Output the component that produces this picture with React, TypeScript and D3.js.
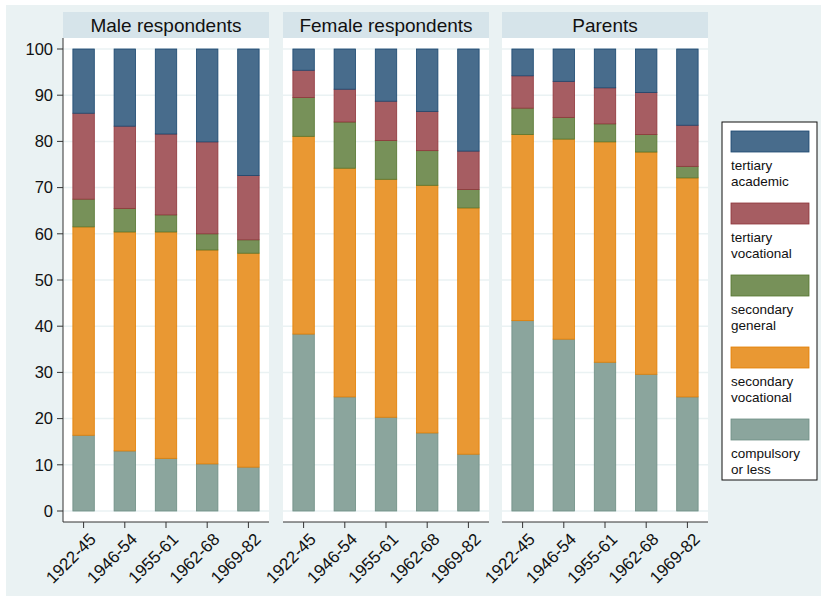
import * as d3 from 'd3'
import React from 'react'

const cohorts = ['1922-45', '1946-54', '1955-61', '1962-68', '1969-82']
const panelTitles = ['Male respondents', 'Female respondents', 'Parents']
const levels = ['compulsory', 'secVoc', 'secGen', 'terVoc', 'terAcad']
const legendLabels = [
  ['tertiary', 'academic'],
  ['tertiary', 'vocational'],
  ['secondary', 'general'],
  ['secondary', 'vocational'],
  ['compulsory', 'or less'],
]
const legendKeys = ['terAcad', 'terVoc', 'secGen', 'secVoc', 'compulsory']

// shares (%) per cohort, bottom to top
const maleCompulsory = [16.4, 13.0, 11.4, 10.2, 9.5]
const maleSecVoc = [45.1, 47.4, 49.0, 46.3, 46.3]
const maleSecGen = [6.0, 5.1, 3.7, 3.5, 2.9]
const maleTerVoc = [18.6, 17.8, 17.5, 19.9, 13.9]
const maleTerAcad = [13.9, 16.7, 18.4, 20.1, 27.4]

const femaleCompulsory = [38.3, 24.7, 20.3, 16.9, 12.3]
const femaleSecVoc = [42.8, 49.5, 51.5, 53.6, 53.3]
const femaleSecGen = [8.4, 10.0, 8.4, 7.5, 4.0]
const femaleTerVoc = [5.9, 7.1, 8.5, 8.5, 8.3]
const femaleTerAcad = [4.6, 8.7, 11.3, 13.5, 22.1]

const parentCompulsory = [41.2, 37.2, 32.2, 29.6, 24.7]
const parentSecVoc = [40.3, 43.3, 47.7, 48.1, 47.4]
const parentSecGen = [5.7, 4.7, 3.9, 3.8, 2.5]
const parentTerVoc = [7.0, 7.8, 7.8, 9.1, 8.9]
const parentTerAcad = [5.8, 7.0, 8.4, 9.4, 16.5]

const yTicks = [0, 10, 20, 30, 40, 50, 60, 70, 80, 90, 100]

const fills: Record<string, string> = {
  terAcad: '#486c8c',
  terVoc: '#a65d62',
  secGen: '#779159',
  secVoc: '#e99833',
  compulsory: '#8ba59d',
}
const strokes: Record<string, string> = {
  terAcad: '#1a476f',
  terVoc: '#90353b',
  secGen: '#55752f',
  secVoc: '#e37e00',
  compulsory: '#6e8e84',
}

const buildRows = (cols: number[][]) =>
  cohorts.map((c, i) => {
    const row: any = { cohort: c }
    levels.forEach((l, j) => (row[l] = cols[j][i]))
    return row
  })

const panels = [
  buildRows([maleCompulsory, maleSecVoc, maleSecGen, maleTerVoc, maleTerAcad]),
  buildRows([femaleCompulsory, femaleSecVoc, femaleSecGen, femaleTerVoc, femaleTerAcad]),
  buildRows([parentCompulsory, parentSecVoc, parentSecGen, parentTerVoc, parentTerAcad]),
]

const font = '"Liberation Sans", Arial, Helvetica, sans-serif'

const App = () => {
  const width = 821
  const height = 599
  const panelX = [63, 283, 502]
  const panelW = 206
  const titleTop = 12
  const plotTop = 38
  const plotBottom = 522

  const y = d3.scaleLinear().domain([0, 100]).range([511, 49])
  const x = d3.scaleBand().domain(cohorts).range([0, panelW]).paddingInner(0.48).paddingOuter(0.24)
  const stack = d3.stack<any>().keys(levels)

  return (
    <svg width={width} height={height} style={{ position: 'absolute', left: 0, top: 0 }} fontFamily={font}>
      <rect x={0} y={0} width={width} height={height} fill='#ffffff' />
      <rect x={6} y={5} width={815} height={591} fill='#eaf2f3' />

      {panels.map((rows, p) => {
        const series = stack(rows)
        return (
          <g key={p} transform={`translate(${panelX[p]},0)`}>
            <rect x={0} y={titleTop} width={panelW} height={plotTop - titleTop} fill='#d6e4ea' />
            <text x={panelW / 2} y={32} textAnchor='middle' fontSize={19} fill='#111'>
              {panelTitles[p]}
            </text>
            <rect x={0} y={plotTop} width={panelW} height={plotBottom - plotTop} fill='#ffffff' />
            {yTicks.map(t => (
              <line key={t} x1={0} x2={panelW} y1={y(t)} y2={y(t)} stroke='#eaf2f3' strokeWidth={1.5} />
            ))}
            {series.map(s => (
              <g key={s.key}>
                {s.map((d, i) => (
                  <rect
                    key={i}
                    x={x(cohorts[i])}
                    y={y(d[1])}
                    width={x.bandwidth()}
                    height={y(d[0]) - y(d[1])}
                    fill={fills[s.key]}
                    stroke={strokes[s.key]}
                    strokeWidth={0.8}
                  />
                ))}
              </g>
            ))}
            <line x1={0} x2={panelW} y1={plotBottom} y2={plotBottom} stroke='#333' strokeWidth={1} />
            {cohorts.map(c => {
              const cx = (x(c) as number) + x.bandwidth() / 2
              return (
                <g key={c}>
                  <line x1={cx} x2={cx} y1={plotBottom} y2={plotBottom + 6} stroke='#333' />
                  <text
                    transform={`translate(${cx + 5},${plotBottom + 10}) rotate(-45)`}
                    textAnchor='end'
                    dy='0.7em'
                    fontSize={17}
                    fill='#111'
                  >
                    {c}
                  </text>
                </g>
              )
            })}
          </g>
        )
      })}

      {/* y axis */}
      <line x1={63} x2={63} y1={plotTop} y2={plotBottom} stroke='#333' strokeWidth={1} />
      {yTicks.map(t => (
        <g key={t} transform={`translate(63,${y(t)})`}>
          <line x1={-6} x2={0} y1={0} y2={0} stroke='#333' />
          <text x={-10} dy='0.35em' textAnchor='end' fontSize={16.5} fill='#111'>
            {t}
          </text>
        </g>
      ))}

      {/* legend */}
      <g transform='translate(722,122)'>
        <rect x={0} y={0} width={95} height={358} fill='#ffffff' stroke='#111' strokeWidth={1} />
        {legendKeys.map((k, i) => (
          <g key={k} transform={`translate(9,${9 + i * 72})`}>
            <rect x={0} y={0} width={78} height={21} fill={fills[k]} stroke={strokes[k]} strokeWidth={0.8} />
            <text x={0} y={39} fontSize={13.5} fill='#111'>{legendLabels[i][0]}</text>
            <text x={0} y={55} fontSize={13.5} fill='#111'>{legendLabels[i][1]}</text>
          </g>
        ))}
      </g>
    </svg>
  )
}

export default App
